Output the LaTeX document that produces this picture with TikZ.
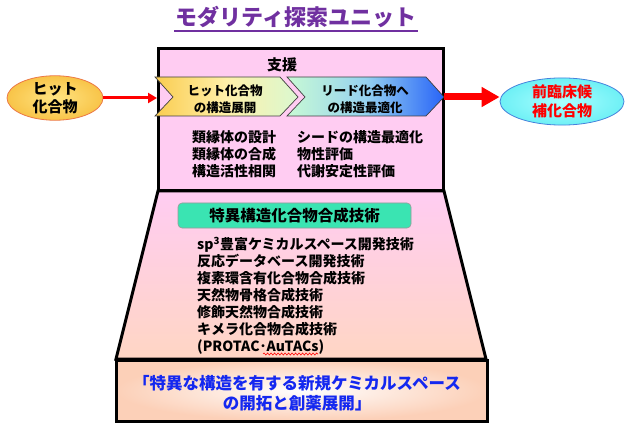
\documentclass[tikz,border=0pt]{standalone}
\usepackage{fontspec}
\setmainfont{Noto Sans CJK JP}
\usetikzlibrary{arrows.meta,decorations.pathmorphing,shapes.geometric,calc}
\definecolor{boxpink}{RGB}{255,204,242}
\definecolor{trapbot}{RGB}{255,214,196}
\definecolor{peach}{RGB}{252,208,184}
\definecolor{titlepurple}{RGB}{112,48,160}
\definecolor{greenbox}{RGB}{58,228,178}
\definecolor{textblue}{RGB}{20,40,240}
\definecolor{arrowred}{RGB}{255,0,0}
\definecolor{hitA}{RGB}{255,228,130}
\definecolor{hitB}{RGB}{248,196,72}
\definecolor{hitborder}{RGB}{236,120,70}
\definecolor{preA}{RGB}{170,255,255}
\definecolor{preB}{RGB}{110,240,245}
\definecolor{preborder}{RGB}{70,130,220}
\definecolor{chAl}{RGB}{250,204,80}
\definecolor{chAm}{RGB}{255,240,170}
\definecolor{chAr}{RGB}{218,248,208}
\definecolor{chBl}{RGB}{200,250,212}
\definecolor{chBm}{RGB}{150,210,240}
\definecolor{chBr}{RGB}{40,100,248}
\begin{document}
\begin{tikzpicture}[x=1pt,y=1pt,
  every node/.style={inner sep=0pt},
  thickbox/.style={draw=black,line width=3pt},
  chevron/.style={draw=black!75,line width=0.7pt},
  lbl/.style={font=\fontsize{14}{17}\selectfont\bfseries,align=left},
  chevtext/.style={font=\fontsize{12.5}{17}\selectfont\bfseries,align=center},
  thinarrow/.style={draw=arrowred,line width=3pt,-{Triangle[length=9pt,width=10pt]}},
  fatarrow/.style={draw=arrowred,line width=7pt,-{Triangle[length=18pt,width=19pt]}}
]
\useasboundingbox (0,0) rectangle (636,-446);

% title
\node[font=\fontsize{22}{22}\selectfont\bfseries,text=titlepurple] (title) at (296,-17) {モダリティ探索ユニット};
\draw[titlepurple,line width=2pt] (174,-31) -- (418,-31);

% trapezoid
\path[thickbox,top color=boxpink,bottom color=trapbot] (158,-191) -- (444,-191) -- (486,-359) -- (116,-359) -- cycle;

% top support box
\node[thickbox,fill=boxpink,minimum width=285pt,minimum height=142pt] (support) at (301,-119.5) {};
\node[font=\fontsize{15}{15}\selectfont\bfseries] (shien) at (282,-65) {支援};

% chevrons
\coordinate (c1tip) at (298,-97);
\coordinate (c2tip) at (444,-97);
\path[chevron,left color=chAl,right color=chAr,middle color=chAm]
  (155,-77) -- (280,-77) -- (c1tip) -- (280,-116) -- (155,-116) -- (173,-97) -- cycle;
\path[chevron,left color=chBl,right color=chBr,middle color=chBm]
  (287,-77) -- (426,-77) -- (c2tip) -- (426,-116) -- (287,-116) -- (305,-97) -- cycle;
\node[chevtext] (ch1) at (225,-99) {ヒット化合物\\の構造展開};
\node[chevtext] (ch2) at (365,-99) {リード化合物へ\\の構造最適化};

% lists in top box
\node[lbl,anchor=west] (listL) at (192,-154) {類縁体の設計\\類縁体の合成\\構造活性相関};
\node[lbl,anchor=west] (listR) at (297,-154) {シードの構造最適化\\物性評価\\代謝安定性評価};

% ellipses
\node[ellipse,draw=hitborder,line width=0.8pt,inner color=hitA,outer color=hitB,
      minimum width=96pt,minimum height=42pt,
      font=\fontsize{15}{18}\selectfont\bfseries,align=center] (hit) at (55,-98) {ヒット\\化合物};
\node[ellipse,draw=preborder,line width=0.8pt,inner color=preA,outer color=preB,
      minimum width=124pt,minimum height=44pt,text=arrowred,
      font=\fontsize{15}{19}\selectfont\bfseries,align=center] (pre) at (562,-101.5) {前臨床候\\補化合物};

% arrows
\draw[thinarrow] (hit.east) -- (hit.east -| support.west);
\draw[fatarrow] (c2tip) -- (c2tip -| pre.west);

% green box
\node[draw=gray!80,line width=0.6pt,fill=greenbox,rounded corners=4pt,
      minimum width=233pt,minimum height=25pt,
      font=\fontsize{15.5}{15.5}\selectfont\bfseries] (tech) at (294.5,-215.5) {特異構造化合物合成技術};

% lower list
\node[lbl,anchor=north west] (list2) at (197,-237) {sp\textsuperscript{3}豊富ケミカルスペース開発技術\\反応データベース開発技術\\複素環含有化合物合成技術\\天然物骨格合成技術\\修飾天然物合成技術\\キメラ化合物合成技術\\(PROTAC･AuTACs)};
\draw[red,line width=0.6pt,decorate,decoration={snake,amplitude=1pt,segment length=3.5pt}] (263,-354) -- (318,-354);

% bottom box
\path[thickbox,inner color=white,outer color=peach] (116,-360) rectangle (487,-421);
\node[inner sep=0pt,minimum width=371pt,minimum height=61pt] (goal) at (301.5,-390.5) {};
\node[font=\fontsize{16.5}{20}\selectfont\bfseries,text=textblue,align=center] (goaltext) at (297,-393) {「特異な構造を有する新規ケミカルスペース\\の開拓と創薬展開」};
\end{tikzpicture}
\end{document}
